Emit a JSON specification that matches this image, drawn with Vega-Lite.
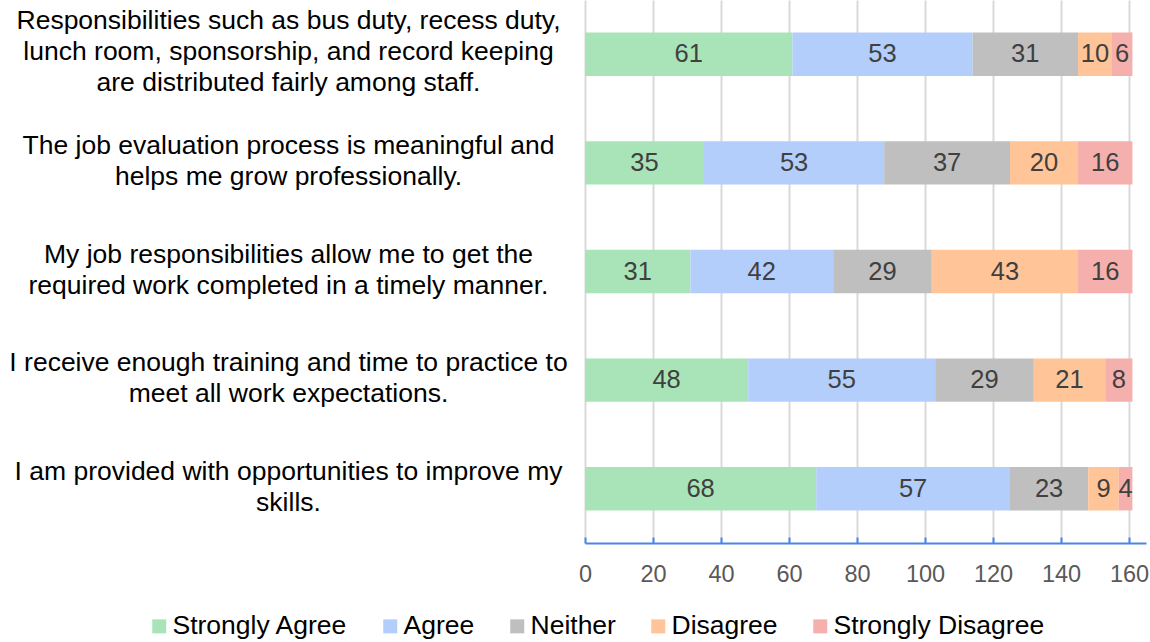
{
  "$schema": "https://vega.github.io/schema/vega-lite/v6.json",
  "autosize": "none",
  "padding": {"left": 585, "top": 0, "right": 4, "bottom": 99},
  "width": 561,
  "height": 543,
  "background": "white",
  "config": {
    "font": "Liberation Sans",
    "view": {"stroke": null}
  },
  "data": {
    "values": [
      {"q": "Responsibilities such as bus duty, recess duty,|lunch room, sponsorship, and record keeping|are distributed fairly among staff.", "resp": "Strongly Agree", "ord": 1, "n": 61},
      {"q": "Responsibilities such as bus duty, recess duty,|lunch room, sponsorship, and record keeping|are distributed fairly among staff.", "resp": "Agree", "ord": 2, "n": 53},
      {"q": "Responsibilities such as bus duty, recess duty,|lunch room, sponsorship, and record keeping|are distributed fairly among staff.", "resp": "Neither", "ord": 3, "n": 31},
      {"q": "Responsibilities such as bus duty, recess duty,|lunch room, sponsorship, and record keeping|are distributed fairly among staff.", "resp": "Disagree", "ord": 4, "n": 10},
      {"q": "Responsibilities such as bus duty, recess duty,|lunch room, sponsorship, and record keeping|are distributed fairly among staff.", "resp": "Strongly Disagree", "ord": 5, "n": 6},
      {"q": "The job evaluation process is meaningful and|helps me grow professionally.", "resp": "Strongly Agree", "ord": 1, "n": 35},
      {"q": "The job evaluation process is meaningful and|helps me grow professionally.", "resp": "Agree", "ord": 2, "n": 53},
      {"q": "The job evaluation process is meaningful and|helps me grow professionally.", "resp": "Neither", "ord": 3, "n": 37},
      {"q": "The job evaluation process is meaningful and|helps me grow professionally.", "resp": "Disagree", "ord": 4, "n": 20},
      {"q": "The job evaluation process is meaningful and|helps me grow professionally.", "resp": "Strongly Disagree", "ord": 5, "n": 16},
      {"q": "My job responsibilities allow me to get the|required work completed in a timely manner.", "resp": "Strongly Agree", "ord": 1, "n": 31},
      {"q": "My job responsibilities allow me to get the|required work completed in a timely manner.", "resp": "Agree", "ord": 2, "n": 42},
      {"q": "My job responsibilities allow me to get the|required work completed in a timely manner.", "resp": "Neither", "ord": 3, "n": 29},
      {"q": "My job responsibilities allow me to get the|required work completed in a timely manner.", "resp": "Disagree", "ord": 4, "n": 43},
      {"q": "My job responsibilities allow me to get the|required work completed in a timely manner.", "resp": "Strongly Disagree", "ord": 5, "n": 16},
      {"q": "I receive enough training and time to practice to|meet all work expectations.", "resp": "Strongly Agree", "ord": 1, "n": 48},
      {"q": "I receive enough training and time to practice to|meet all work expectations.", "resp": "Agree", "ord": 2, "n": 55},
      {"q": "I receive enough training and time to practice to|meet all work expectations.", "resp": "Neither", "ord": 3, "n": 29},
      {"q": "I receive enough training and time to practice to|meet all work expectations.", "resp": "Disagree", "ord": 4, "n": 21},
      {"q": "I receive enough training and time to practice to|meet all work expectations.", "resp": "Strongly Disagree", "ord": 5, "n": 8},
      {"q": "I am provided with opportunities to improve my|skills.", "resp": "Strongly Agree", "ord": 1, "n": 68},
      {"q": "I am provided with opportunities to improve my|skills.", "resp": "Agree", "ord": 2, "n": 57},
      {"q": "I am provided with opportunities to improve my|skills.", "resp": "Neither", "ord": 3, "n": 23},
      {"q": "I am provided with opportunities to improve my|skills.", "resp": "Disagree", "ord": 4, "n": 9},
      {"q": "I am provided with opportunities to improve my|skills.", "resp": "Strongly Disagree", "ord": 5, "n": 4}
    ]
  },
  "encoding": {
    "y": {
      "field": "q", "type": "nominal", "sort": null,
      "scale": {"paddingInner": 0.6, "paddingOuter": 0.3},
      "axis": {
        "title": null, "domain": false, "ticks": false, "grid": false,
        "labelExpr": "split(datum.label, '|')",
        "labelAlign": "center", "labelBaseline": "middle",
        "labelPadding": 297, "labelFontSize": 26.5, "labelLineHeight": 31,
        "labelColor": "#000000", "labelLimit": 0,
        "labelOffset": {"condition": {"test": "indexof(datum.value, '|') != lastindexof(datum.value, '|')", "value": -33}, "value": -17}
      }
    },
    "x": {
      "field": "n", "type": "quantitative", "stack": "zero",
      "scale": {"domain": [0, 165], "nice": false},
      "axis": {
        "title": null, "values": [0, 20, 40, 60, 80, 100, 120, 140, 160],
        "grid": true, "gridColor": "#D9D9D9", "gridWidth": 2,
        "domainColor": "#4A86E8", "domainWidth": 2,
        "tickColor": "#4A86E8", "tickSize": -6, "tickWidth": 2,
        "labelFlush": false,
        "labelFontSize": 23.5, "labelColor": "#595959", "labelPadding": 25
      }
    },
    "order": {"field": "ord", "type": "quantitative"}
  },
  "layer": [
    {
      "mark": {"type": "bar"},
      "encoding": {
        "color": {
          "field": "resp", "type": "nominal",
          "scale": {
            "domain": ["Strongly Agree", "Agree", "Neither", "Disagree", "Strongly Disagree"],
            "range": ["#A8E4B8", "#B3CEFA", "#BFBFBF", "#FFC598", "#F5B0AE"]
          },
          "legend": {
            "title": null, "orient": "none", "direction": "horizontal",
            "legendX": -439, "legendY": 613,
            "symbolType": "square", "symbolSize": 196, "symbolStrokeWidth": 0,
            "labelFontSize": 26.5, "labelColor": "#000000", "labelOffset": 0,
            "columnPadding": 29, "labelLimit": 0
          }
        }
      }
    },
    {
      "mark": {"type": "text", "fontSize": 25.5, "color": "#404040", "baseline": "middle"},
      "encoding": {
        "x": {"field": "n", "type": "quantitative", "stack": "zero", "bandPosition": 0.5},
        "text": {"field": "n", "type": "quantitative"}
      }
    }
  ]
}
